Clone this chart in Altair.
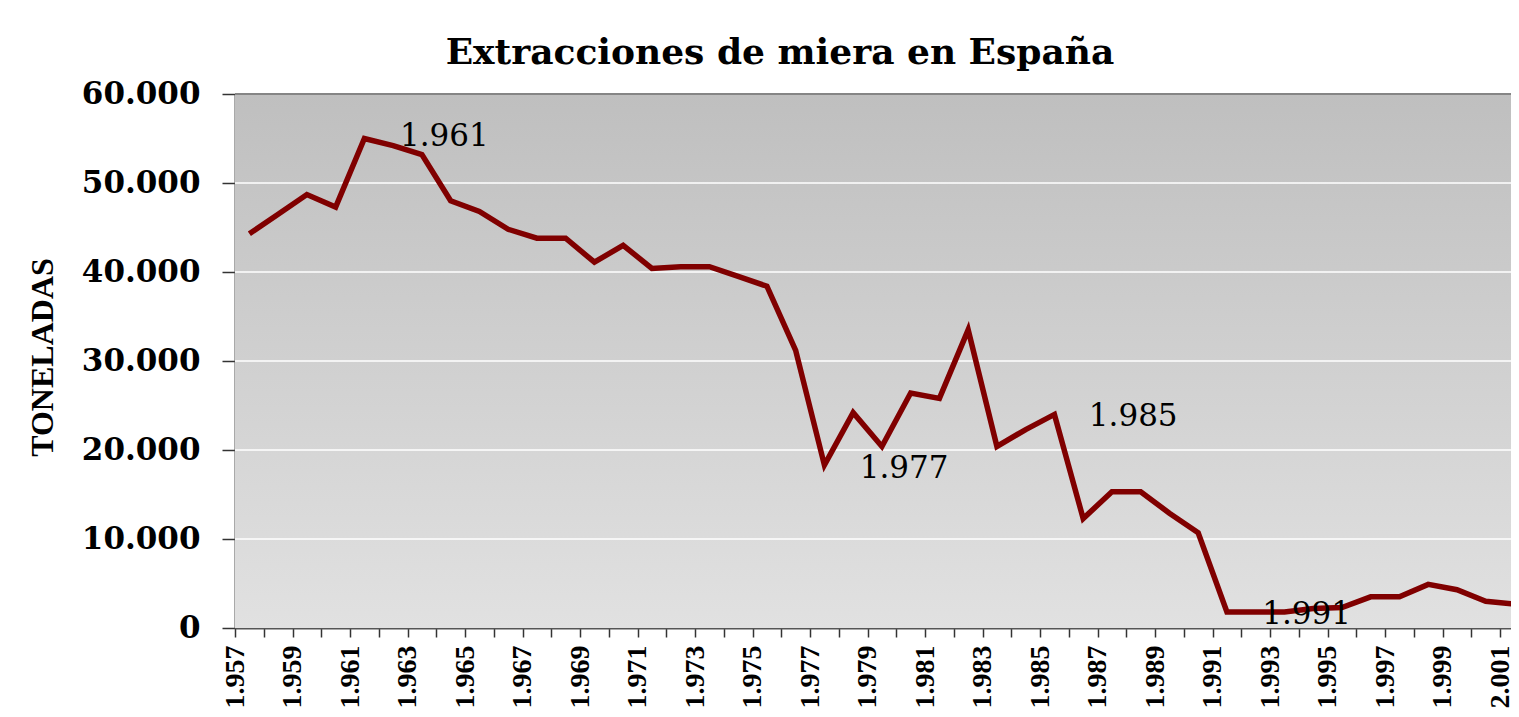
import altair as alt
import pandas as pd

# ---- data ----
years = list(range(1957, 2002))
toneladas = [44300, 46500, 48700, 47300, 55000, 54200, 53200, 48000, 46800, 44800,
             43800, 43800, 41100, 43000, 40400, 40600, 40600, 39500, 38400, 31200,
             18300, 24200, 20400, 26400, 25800, 33500, 20400, 22300, 24000, 12300,
             15300, 15300, 12900, 10700, 1800, 1800, 1800, 2200, 2300, 3500,
             3500, 4900, 4300, 3000, 2700]

ann_text = ["1.961", "1.977", "1.985", "1.991"]
ann_year = [1963.78, 1979.77, 1987.74, 1993.77]
ann_value = [54160, 16850, 22700, 450]

y_ticks = [0, 10000, 20000, 30000, 40000, 50000, 60000]
grid_values = [10000, 20000, 30000, 40000, 50000]
top_value = [60000]
x_ticks = [1956.5 + i for i in range(45)]

W, H = 1276, 534

df = pd.DataFrame({"year": years, "toneladas": toneladas})
ann_df = pd.DataFrame({"label": ann_text, "year": ann_year, "toneladas": ann_value})
grid_df = pd.DataFrame({"toneladas": grid_values})
top_df = pd.DataFrame({"toneladas": top_value})

xscale = alt.Scale(domain=[1956.5, 2000.88], nice=False, zero=False)
yscale = alt.Scale(domain=[0, 60000], nice=False)

xaxis = alt.Axis(
    values=x_ticks,
    labelExpr="(datum.value + 0.5 - 1957) % 2 == 0 ? replace(format(datum.value + 0.5, ','), ',', '.') : ''",
    labelAngle=-90, labelFont="Liberation Serif", labelFontWeight="bold",
    labelFontSize=28, labelColor="black", labelPadding=8,
    labelFlush=False, labelOverlap=False,
    tickSize=9, tickColor="#333333", tickWidth=1.5,
    domainColor="#555555", domainWidth=2, grid=False, title=None,
)
yaxis = alt.Axis(
    values=y_ticks,
    labelExpr="replace(format(datum.value, ','), ',', '.')",
    labelFont="DejaVu Serif", labelFontWeight="bold", labelFontSize=31,
    labelColor="black", labelPadding=22, labelFlush=False, labelOverlap=False,
    tickSize=13, tickColor="#333333", tickWidth=1.5,
    domainColor="#555555", domainWidth=2, grid=False,
    title="TONELADAS", titleFont="Liberation Serif", titleFontSize=32,
    titleFontWeight="bold", titleColor="black", titleAngle=270,
    titleBaseline="middle", titleX=-193, titleY=263,
)

X = lambda f: alt.X(f, scale=xscale, axis=xaxis)
Y = lambda f: alt.Y(f, scale=yscale, axis=yaxis)

gradient = alt.LinearGradient(
    gradient="linear", x1=0, y1=0, x2=0, y2=1,
    stops=[alt.GradientStop(offset=0, color="#bfbfbf"),
           alt.GradientStop(offset=1, color="#e1e1e1")],
)

bg = alt.Chart(pd.DataFrame({"a": [0]})).mark_rect(fill=gradient).encode(
    x=alt.value(0), x2=alt.value(W), y=alt.value(0), y2=alt.value(H)
)

grid = alt.Chart(grid_df).mark_rule(color="white", strokeWidth=1.5).encode(
    y=Y("toneladas:Q")
)
top = alt.Chart(top_df).mark_rule(color="#858585", strokeWidth=2).encode(
    y=Y("toneladas:Q")
)

line = alt.Chart(df).mark_line(color="#800000", strokeWidth=5.5, clip=True).encode(
    x=X("year:Q"), y=Y("toneladas:Q")
)

ann = alt.Chart(ann_df).mark_text(
    font="DejaVu Serif", fontSize=31, align="center", baseline="alphabetic",
    color="black"
).encode(x=X("year:Q"), y=Y("toneladas:Q"), text="label:N")

chart = alt.layer(bg, grid, top, line, ann).properties(
    width=W, height=H,
    autosize=alt.AutoSizeParams(type="none"),
    padding={"left": 227, "top": 86, "right": 0, "bottom": 81},
    background="white",
    title=alt.TitleParams(
        "Extracciones de miera en España", font="DejaVu Serif", fontSize=36,
        fontWeight="bold", color="black", anchor="middle", frame="group",
        dx=-93, dy=54, baseline="alphabetic", offset=32,
    ),
).configure_view(stroke=None)

chart.save("out.html", embed_options={"renderer": "svg", "actions": False})
